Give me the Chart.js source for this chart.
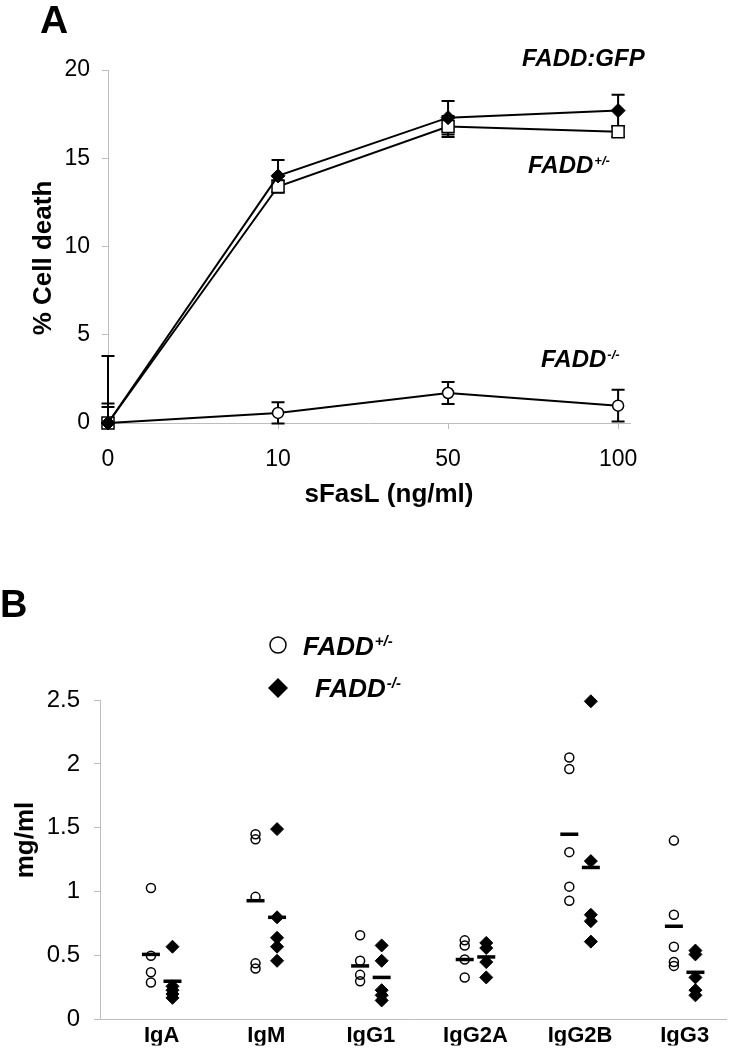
<!DOCTYPE html>
<html><head><meta charset="utf-8">
<script src="https://cdn.jsdelivr.net/npm/chart.js@4.4.0/dist/chart.umd.min.js"></script>
<style>
html,body{margin:0;padding:0;background:#fff;width:739px;height:1048px;overflow:hidden;}
#wa{position:absolute;left:0;top:0;width:739px;height:530px;}
#wb{position:absolute;left:0;top:530px;width:739px;height:518px;}
</style></head><body>
<div id="wa"><canvas id="ca"></canvas></div>
<div id="wb"><canvas id="cb"></canvas></div>
<script>
// ---------- Panel A data ----------
const doseLabels = ['0', '10', '50', '100'];
const gfpValues = [0, 14.0, 17.3, 17.7];
const gfpErrors = [1.1, 0.9, 0.95, 0.9];
const hetValues = [0, 13.4, 16.8, 16.5];
const hetErrors = [0.9, 0.35, 0.6, 0.3];
const koValues = [0, 0.57, 1.7, 0.98];
const koErrors = [3.8, 0.6, 0.62, 0.9];

// ---------- Panel B data ----------
const isotypes = ['IgA', 'IgM', 'IgG1', 'IgG2A', 'IgG2B', 'IgG3'];
const hetIg = [
  [1.03, 0.50, 0.37, 0.29],
  [1.45, 1.41, 0.96, 0.44, 0.40],
  [0.66, 0.46, 0.35, 0.30],
  [0.62, 0.58, 0.47, 0.33],
  [2.05, 1.96, 1.31, 1.04, 0.93],
  [1.40, 0.82, 0.57, 0.45, 0.42]
];
const koIg = [
  [0.57, 0.26, 0.23, 0.20, 0.17],
  [1.49, 0.80, 0.64, 0.57, 0.46],
  [0.58, 0.46, 0.23, 0.19, 0.15],
  [0.60, 0.56, 0.45, 0.33],
  [2.49, 1.24, 0.82, 0.77, 0.61],
  [0.54, 0.51, 0.33, 0.23, 0.19]
];
const hetMeans = [0.51, 0.93, 0.42, 0.47, 1.45, 0.73];
const koMeans = [0.30, 0.80, 0.33, 0.49, 1.19, 0.37];

const FONT = '"Liberation Sans", Arial, sans-serif';
const AXIS = '#bdbdbd';
const GROUP_OFFSET = 0.103;

function drawSupLabel(ctx, x, y, main, sup, size, supSize, rise) {
  ctx.font = 'italic bold ' + size + 'px ' + FONT;
  ctx.textAlign = 'left';
  ctx.textBaseline = 'alphabetic';
  ctx.fillStyle = '#000';
  ctx.fillText(main, x, y);
  const w = ctx.measureText(main).width;
  if (sup) {
    ctx.font = 'italic bold ' + supSize + 'px ' + FONT;
    ctx.fillText(sup, x + w + 1, y - rise);
  }
}

// ---------- Panel A ----------
const errorBars = {
  id: 'errorBars',
  beforeDatasetsDraw(chart) {
    const {ctx, chartArea: a, scales: {x, y}} = chart;
    ctx.save();
    ctx.beginPath();
    ctx.rect(a.left - 20, a.top - 20, a.right - a.left + 40, a.bottom - a.top + 24);
    ctx.clip();
    ctx.strokeStyle = '#000';
    ctx.lineWidth = 2;
    chart.data.datasets.forEach(ds => {
      ds.errors.forEach((e, i) => {
        const p = ds.data[i];
        const px = x.getPixelForValue(p.x);
        const t = y.getPixelForValue(p.y + e);
        const b = y.getPixelForValue(p.y - e);
        ctx.beginPath();
        ctx.moveTo(px, t); ctx.lineTo(px, b);
        ctx.moveTo(px - 6.5, t); ctx.lineTo(px + 6.5, t);
        ctx.moveTo(px - 6.5, b); ctx.lineTo(px + 6.5, b);
        ctx.stroke();
      });
    });
    ctx.restore();
  }
};

const textsA = {
  id: 'textsA',
  afterDraw(chart) {
    const ctx = chart.ctx;
    ctx.save();
    ctx.fillStyle = '#000';
    ctx.font = 'bold 39px ' + FONT;
    ctx.textAlign = 'left';
    ctx.textBaseline = 'alphabetic';
    ctx.fillText('A', 40, 33);
    ctx.save();
    ctx.translate(51, 258);
    ctx.rotate(-Math.PI / 2);
    ctx.font = 'bold 26px ' + FONT;
    ctx.textAlign = 'center';
    ctx.fillText('% Cell death', 0, 0);
    ctx.restore();
    ctx.font = 'bold 26px ' + FONT;
    ctx.textAlign = 'center';
    ctx.fillText('sFasL (ng/ml)', 389, 502);
    drawSupLabel(ctx, 522, 66, 'FADD:GFP', '', 24, 13, 0);
    drawSupLabel(ctx, 528, 173, 'FADD', '+/-', 24, 13, 8);
    drawSupLabel(ctx, 541, 367, 'FADD', '-/-', 24, 13, 8);
    ctx.restore();
  }
};

function series(vals) { return vals.map((v, i) => ({x: i, y: v})); }

new Chart(document.getElementById('ca'), {
  type: 'scatter',
  data: {
    datasets: [
      {data: series(gfpValues), errors: gfpErrors, showLine: true, borderColor: '#000', borderWidth: 2,
       pointStyle: 'rectRot', pointRadius: 7, pointBackgroundColor: '#000', pointBorderColor: '#000', pointBorderWidth: 1, clip: false},
      {data: series(hetValues), errors: hetErrors, showLine: true, borderColor: '#000', borderWidth: 2,
       pointStyle: 'rect', pointRadius: 8.5, pointBackgroundColor: '#fff', pointBorderColor: '#000', pointBorderWidth: 1.5, clip: false},
      {data: series(koValues), errors: koErrors, showLine: true, borderColor: '#000', borderWidth: 2,
       pointStyle: 'circle', pointRadius: 5.5, pointBackgroundColor: '#fff', pointBorderColor: '#000', pointBorderWidth: 1.5, clip: false}
    ]
  },
  options: {
    responsive: true, maintainAspectRatio: false, animation: false, events: [],
    layout: {padding: {top: 70, right: 109, left: 0, bottom: 0}},
    plugins: {legend: {display: false}, tooltip: {enabled: false}},
    scales: {
      x: {
        type: 'linear', min: 0, max: 3.07,
        afterBuildTicks: s => { s.ticks = doseLabels.map((_, i) => ({value: i})); },
        afterFit: s => { s.height = 107; },
        ticks: {callback: v => doseLabels[v], color: '#000', font: {family: FONT, size: 23}, padding: 17, maxRotation: 0, autoSkip: false},
        grid: {drawOnChartArea: false, drawTicks: true, tickLength: 6, color: AXIS},
        border: {display: true, color: AXIS, width: 1}
      },
      y: {
        min: 0, max: 20,
        afterFit: s => { s.width = 108; },
        ticks: {stepSize: 5, color: '#000', font: {family: FONT, size: 23}, padding: 12},
        grid: {drawOnChartArea: false, drawTicks: true, tickLength: 6, color: AXIS},
        border: {display: true, color: AXIS, width: 1}
      }
    }
  },
  plugins: [errorBars, textsA]
});

// ---------- Panel B ----------
const textsB = {
  id: 'textsB',
  afterDraw(chart) {
    const ctx = chart.ctx;
    ctx.save();
    ctx.fillStyle = '#000';
    ctx.font = 'bold 38px ' + FONT;
    ctx.textAlign = 'left';
    ctx.textBaseline = 'alphabetic';
    ctx.fillText('B', 0, 87);
    ctx.save();
    ctx.translate(33, 310);
    ctx.rotate(-Math.PI / 2);
    ctx.font = 'bold 26px ' + FONT;
    ctx.textAlign = 'center';
    ctx.fillText('mg/ml', 0, 0);
    ctx.restore();
    // legend markers
    ctx.strokeStyle = '#000'; ctx.lineWidth = 1.5;
    ctx.beginPath(); ctx.arc(278, 115, 8, 0, Math.PI * 2); ctx.stroke();
    ctx.fillStyle = '#000';
    ctx.beginPath(); ctx.moveTo(268, 158); ctx.lineTo(278, 148); ctx.lineTo(288, 158); ctx.lineTo(278, 168); ctx.closePath(); ctx.fill();
    drawSupLabel(ctx, 303, 125, 'FADD', '+/-', 26, 15, 9);
    drawSupLabel(ctx, 315, 167, 'FADD', '-/-', 26, 15, 9);
    ctx.restore();
  }
};

const hetPts = [], koPts = [];
hetIg.forEach((arr, i) => arr.forEach(v => hetPts.push({x: i - GROUP_OFFSET, y: v})));
koIg.forEach((arr, i) => arr.forEach(v => koPts.push({x: i + GROUP_OFFSET, y: v})));

new Chart(document.getElementById('cb'), {
  type: 'scatter',
  data: {
    datasets: [
      {data: hetMeans.map((v, i) => ({x: i - GROUP_OFFSET, y: v})), pointStyle: 'line', pointRadius: 9,
       pointBorderColor: '#000', pointBorderWidth: 3.5, clip: false},
      {data: koMeans.map((v, i) => ({x: i + GROUP_OFFSET, y: v})), pointStyle: 'line', pointRadius: 9,
       pointBorderColor: '#000', pointBorderWidth: 3.5, clip: false},
      {data: koPts, pointStyle: 'rectRot', pointRadius: 6.5, pointBackgroundColor: '#000', pointBorderColor: '#000', pointBorderWidth: 1, clip: false},
      {data: hetPts, pointStyle: 'circle', pointRadius: 4.5, pointBackgroundColor: 'rgba(0,0,0,0)', pointBorderColor: '#000', pointBorderWidth: 1.5, clip: false}
    ]
  },
  options: {
    responsive: true, maintainAspectRatio: false, animation: false, events: [],
    layout: {padding: {top: 170, right: 0, left: 0, bottom: 0}},
    plugins: {legend: {display: false}, tooltip: {enabled: false}},
    scales: {
      x: {
        type: 'linear', min: -0.59, max: 5.40,
        afterBuildTicks: s => { s.ticks = isotypes.map((_, i) => ({value: i})); },
        afterFit: s => { s.height = 26; },
        ticks: {callback: v => isotypes[v], color: '#000', font: {family: FONT, size: 22, weight: 'bold'}, padding: 3, maxRotation: 0, autoSkip: false},
        grid: {drawOnChartArea: false, drawTicks: false, color: AXIS},
        border: {display: true, color: AXIS, width: 1}
      },
      y: {
        min: 0, max: 2.5,
        afterFit: s => { s.width = 100; },
        ticks: {stepSize: 0.5, callback: v => String(Math.round(v * 10) / 10), color: '#000', font: {family: FONT, size: 24}, padding: 14},
        grid: {drawOnChartArea: false, drawTicks: true, tickLength: 6, color: AXIS},
        border: {display: true, color: AXIS, width: 1}
      }
    }
  },
  plugins: [textsB]
});
</script>
</body></html>
